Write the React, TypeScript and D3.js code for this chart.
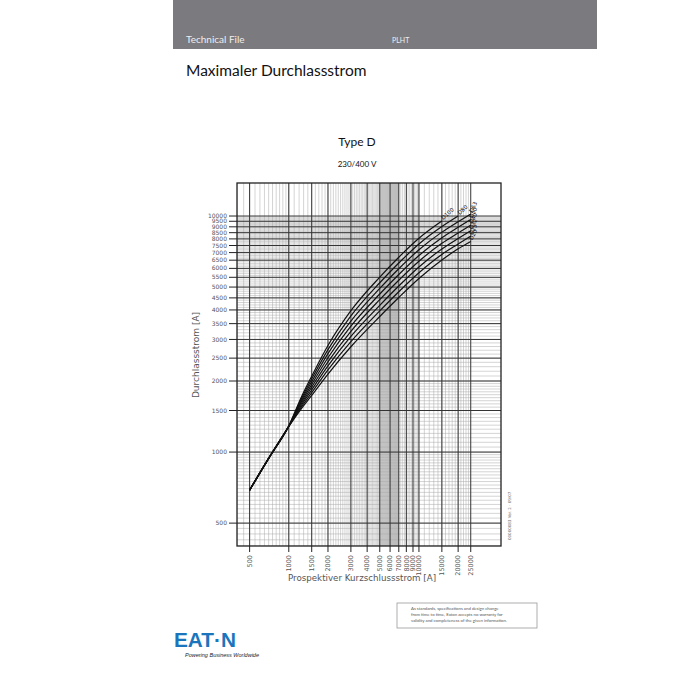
import React from 'react';
import * as d3 from 'd3';

// ---- data ----
const xTickValues = [500, 1000, 1500, 2000, 3000, 4000, 5000, 6000, 7000, 8000, 9000, 10000, 15000, 20000, 25000];
const yTickValues = [500, 1000, 1500, 2000, 2500, 3000, 3500, 4000, 4500, 5000, 5500, 6000, 6500, 7000, 7500, 8000, 8500, 9000, 9500, 10000];
const prospectiveCurrent = [500, 700, 1000, 1250, 1500, 2000, 3000, 5000, 7000, 10000, 15000, 20000, 25000];
const seriesNames = ['D100', 'D80', 'D63', 'D50', 'D40', 'D32', 'D25', 'D20'];
const D100 = [690, 940, 1290, 1713, 2097, 2827, 3970, 5510, 6690, 8050, 9520];
const D80 = [690, 940, 1289, 1685, 2043, 2716, 3777, 5217, 6322, 7608, 9018, 10000];
const D63 = [690, 940, 1288, 1659, 1988, 2612, 3591, 4934, 5981, 7196, 8546, 9458, 10206];
const D50 = [690, 940, 1287, 1632, 1936, 2510, 3416, 4673, 5651, 6800, 8090, 8956, 9665];
const D40 = [690, 940, 1286, 1605, 1884, 2411, 3247, 4424, 5346, 6433, 7660, 8480, 9152];
const D32 = [690, 940, 1285, 1579, 1834, 2316, 3089, 4184, 5051, 6080, 7253, 8030, 8664];
const D25 = [690, 940, 1284, 1554, 1786, 2228, 2936, 3963, 4778, 5751, 6875, 7608, 8212];
const D20 = [690, 940, 1283, 1528, 1739, 2141, 2794, 3752, 4515, 5435, 6510, 7261, 7800];
const letThrough = [D100, D80, D63, D50, D40, D32, D25, D20];

// minor grid bands: [from, to, step]
const xMinorBands = [[400, 1000, 50], [1000, 3000, 100], [3000, 5000, 100], [5000, 7000, 50], [7000, 10000, 250], [10000, 25000, 1000]];
const yMinorBands = [[400, 1000, 25], [1000, 2000, 50], [2000, 3000, 100], [3000, 5000, 100], [5000, 10000, 100]];

export default function App() {
  const L = 237, R = 501, T = 183, B = 546;
  const x = d3.scaleLog().domain([400, 42700]).range([L, R]);
  const y = d3.scaleLog().domain([400, 13800]).range([B, T]);
  const xMinor: number[] = [];
  xMinorBands.forEach(([a, b, s]) => d3.range(a, b, s).forEach(v => xMinor.push(v)));
  const yMinor: number[] = [];
  yMinorBands.forEach(([a, b, s]) => d3.range(a, b, s).forEach(v => yMinor.push(v)));
  const line = d3.line<[number, number]>().x(d => x(d[0])).y(d => y(d[1])).curve(d3.curveMonotoneX);
  const axisFont = "'DejaVu Sans', sans-serif";
  const textFont = "Lato, 'Open Sans', sans-serif";

  return (
    <svg width={700} height={700} style={{ position: 'absolute', left: 0, top: 0, background: '#fff' }}>
      {/* header */}
      <rect x={173} y={0} width={424} height={49} fill="#7b7a7f" />
      <text x={186} y={43} fontFamily={textFont} fontSize={10} fill="#eee">Technical File</text>
      <text x={392} y={43} fontFamily={textFont} fontSize={7} fill="#eee">PLHT</text>
      <text x={186} y={76} fontFamily={textFont} fontSize={15.5} fill="#111">Maximaler Durchlassstrom</text>
      <text x={357} y={146} fontFamily={textFont} fontSize={12} textAnchor="middle" fill="#111">Type D</text>
      <text x={357} y={167} fontFamily={textFont} fontSize={8} textAnchor="middle" fill="#111">230/400 V</text>

      {/* chart */}
      <g>
        <clipPath id="plot"><rect x={L} y={T} width={R - L} height={B - T} /></clipPath>
        <g clipPath="url(#plot)">
          {xMinor.map((v, i) => (
            <line key={'xm' + i} x1={x(v)} x2={x(v)} y1={T} y2={B} stroke="#a8a8a8" strokeWidth={0.5} />
          ))}
          {yMinor.map((v, i) => (
            <line key={'ym' + i} x1={L} x2={R} y1={y(v)} y2={y(v)} stroke="#a8a8a8" strokeWidth={0.5} />
          ))}
          {xTickValues.map((v, i) => (
            <line key={'xM' + i} x1={x(v)} x2={x(v)} y1={T} y2={B} stroke="#333" strokeWidth={1} />
          ))}
          {yTickValues.map((v, i) => (
            <line key={'yM' + i} x1={L} x2={R} y1={y(v)} y2={y(v)} stroke="#333" strokeWidth={1} />
          ))}
          {letThrough.map((vals, i) => (
            <path key={'c' + i} d={line(vals.map((v, j) => [prospectiveCurrent[j], v] as [number, number])) || ''}
              fill="none" stroke="#111" strokeWidth={1.2} />
          ))}
        </g>
        <rect x={L} y={T} width={R - L} height={B - T} fill="none" stroke="#222" strokeWidth={1.3} />
        {/* y ticks */}
        {yTickValues.map((v, i) => (
          <g key={'yt' + i}>
            <line x1={L - 8} x2={L} y1={y(v)} y2={y(v)} stroke="#222" strokeWidth={1} />
            <text x={L - 10} y={y(v)} dy="0.35em" textAnchor="end" fontFamily={axisFont} fontSize={6} fill="#555">{v}</text>
          </g>
        ))}
        {/* x ticks */}
        {xTickValues.map((v, i) => (
          <g key={'xt' + i}>
            <line x1={x(v)} x2={x(v)} y1={B} y2={B + 6} stroke="#222" strokeWidth={1} />
            <text transform={`translate(${x(v)},${B + 9}) rotate(-90)`} dy="0.35em" textAnchor="end" fontFamily={axisFont} fontSize={6.5} fill="#555">{v}</text>
          </g>
        ))}
        {/* curve labels */}
        {seriesNames.map((n, i) => {
          const vals = letThrough[i];
          const xv = prospectiveCurrent[vals.length - 1];
          const yv = vals[vals.length - 1];
          const ang = i < 2 ? -42 : -62;
          return (
            <text key={'lb' + i} transform={`translate(${x(xv) + 1.5},${y(yv) - 1}) rotate(${ang})`} fontFamily={axisFont} fontSize={5.5} fill="#111">{n}</text>
          );
        })}
        <text transform={`translate(199,355) rotate(-90)`} textAnchor="middle" fontFamily={axisFont} fontSize={9} fill="#555">Durchlassstrom  [A]</text>
        <text x={362} y={581} textAnchor="middle" fontFamily={axisFont} fontSize={8.7} fill="#555">Prospektiver Kurzschlussstrom [A]</text>
        <text transform={`translate(511,540) rotate(-90)`} fontFamily={axisFont} fontSize={4} fill="#666">00000083  Ver. 2 · 09/07</text>
      </g>

      {/* disclaimer */}
      <rect x={397} y={603} width={140} height={25} fill="none" stroke="#999" strokeWidth={0.8} />
      <text fontFamily={textFont} fontSize={4.3} fill="#555">
        <tspan x={411} y={610}>As standards, specifications and design change</tspan>
        <tspan x={411} y={616}>from time to time, Eaton accepts no warranty for</tspan>
        <tspan x={411} y={622}>validity and completeness of the given information.</tspan>
      </text>

      {/* logo */}
      <text x={174} y={647} fontFamily="'Liberation Sans', Arial, sans-serif" fontWeight="bold" fontSize={21} fill="#1b75bc" textLength={62} lengthAdjust="spacingAndGlyphs">EAT·N</text>
      <text x={185} y={657} fontFamily="'Liberation Sans', Arial, sans-serif" fontStyle="italic" fontSize={5.5} fill="#222">Powering Business Worldwide</text>
    </svg>
  );
}
